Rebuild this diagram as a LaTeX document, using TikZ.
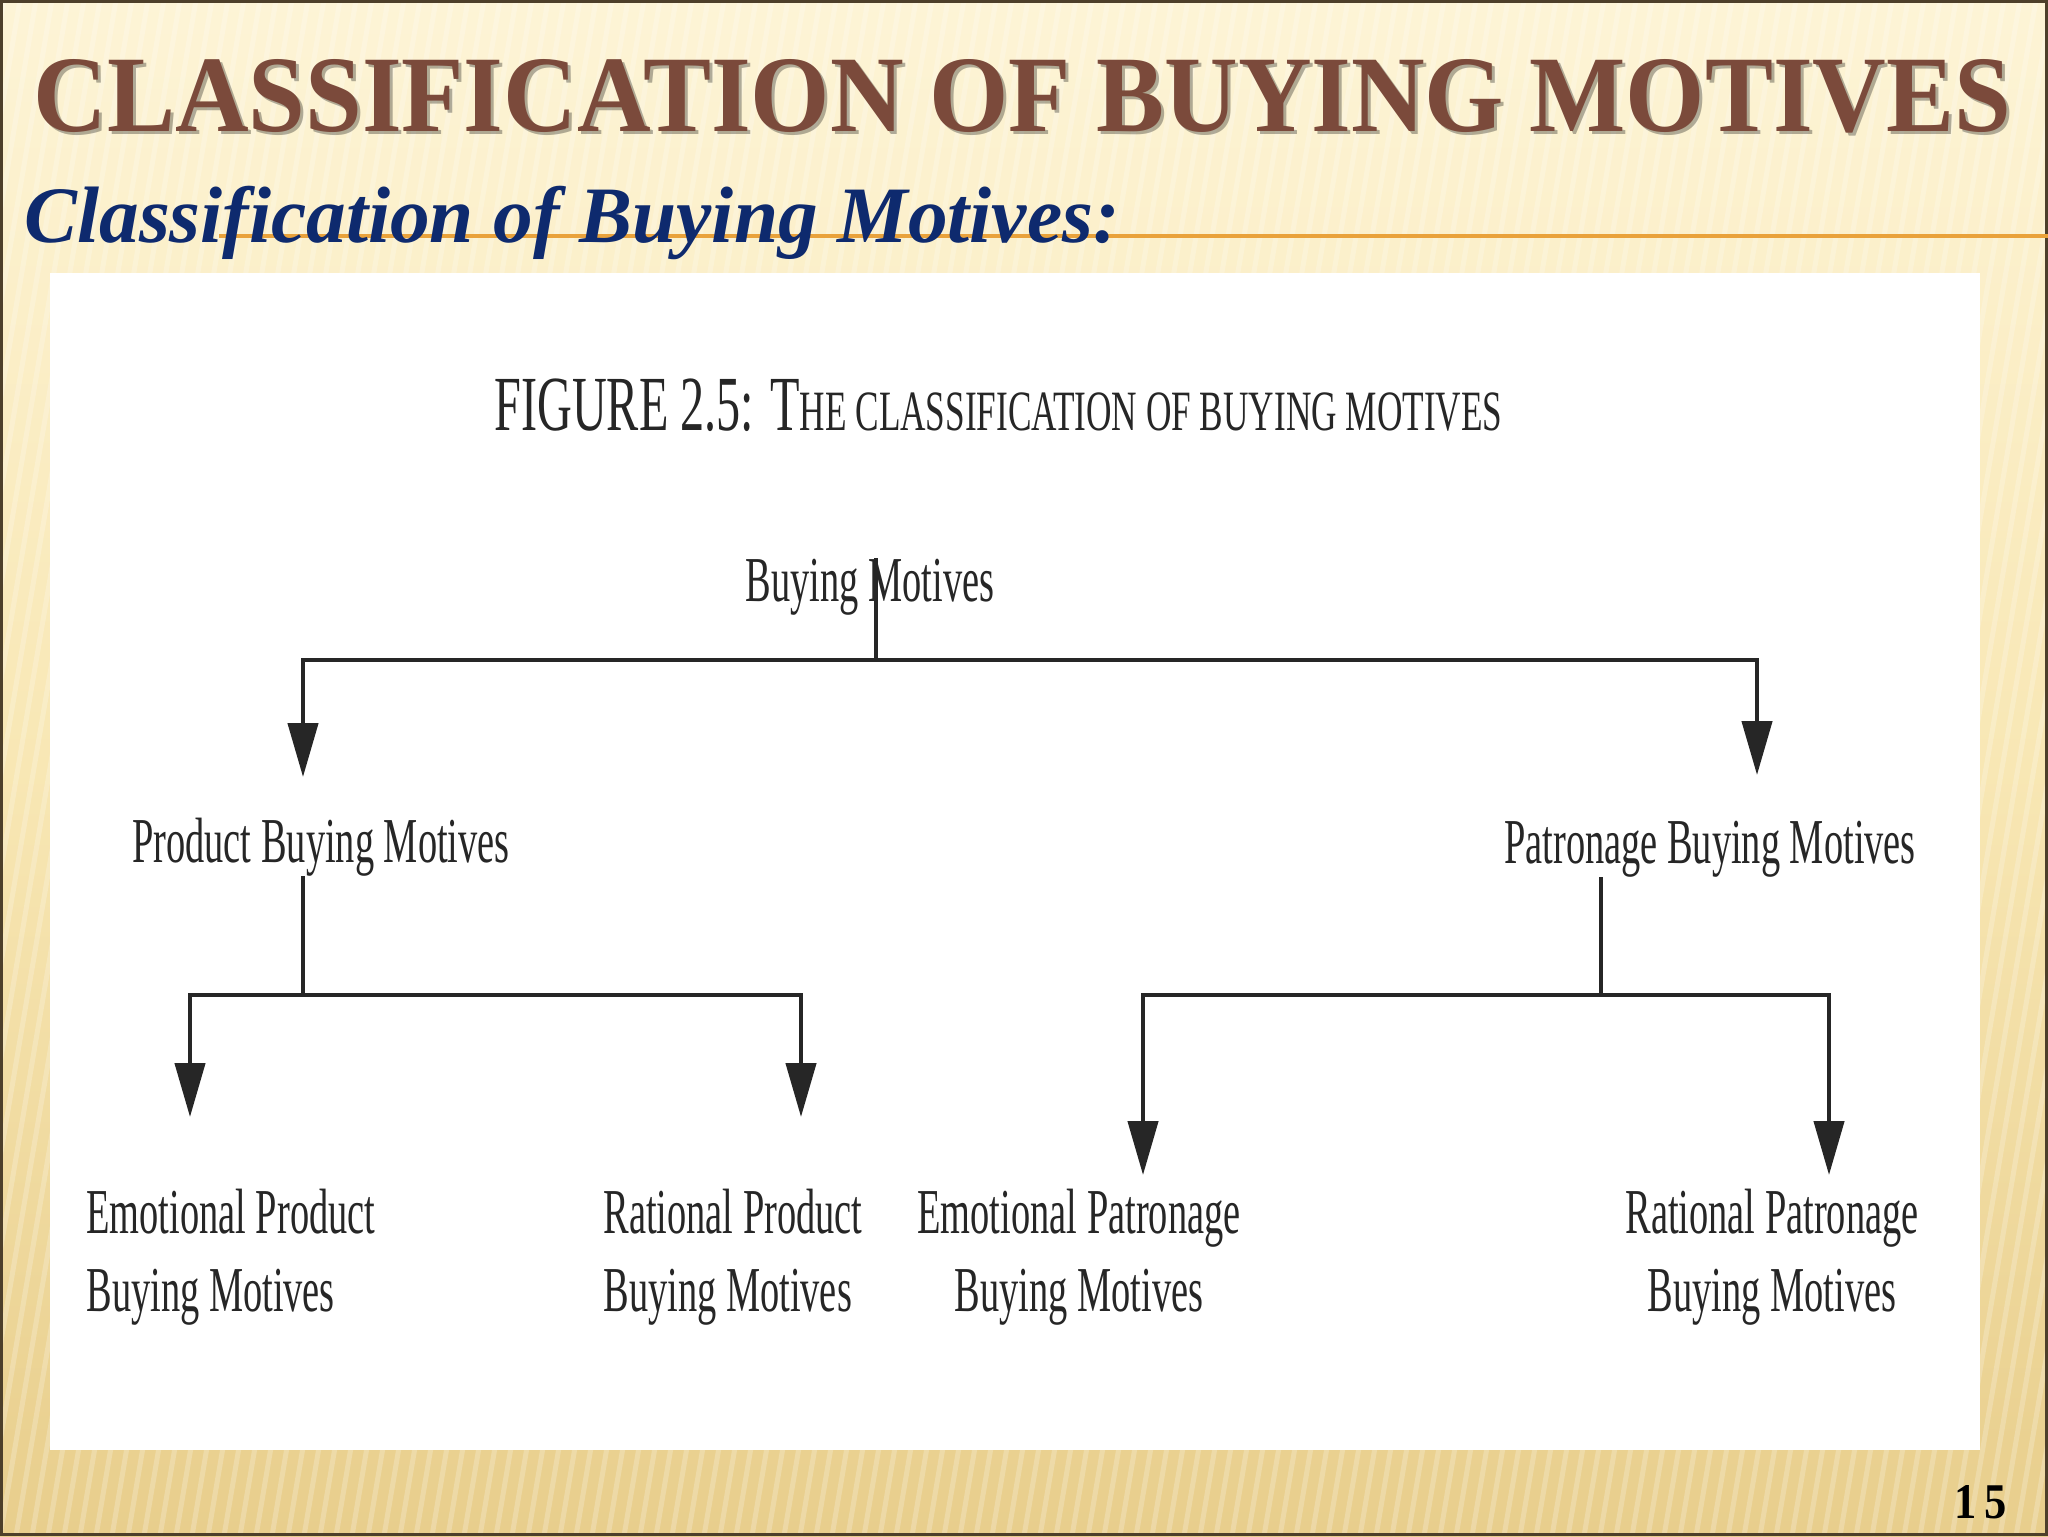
\documentclass[tikz,border=0pt]{standalone}
\usepackage{fontspec}
\usepackage{graphicx}
\setmainfont{Liberation Serif}
\newfontfamily\figfont[FakeStretch=0.6]{Liberation Serif}
\usetikzlibrary{arrows.meta}
\definecolor{titlebrown}{HTML}{7B4A3B}
\definecolor{subblue}{HTML}{0E2A6E}
\definecolor{rulegold}{HTML}{E9A23B}
\definecolor{bgtop}{HTML}{FDF4D6}
\definecolor{bgmid}{HTML}{F8E7B4}
\definecolor{bgbot}{HTML}{E8CE8C}
\definecolor{framec}{HTML}{4D3F2A}
\definecolor{inkc}{HTML}{262626}
\tikzset{
  lbl/.style={inner sep=0pt, text=inkc, font=\figfont\fontsize{32}{39}\selectfont},
  ln/.style={draw=inkc, line width=2.2pt},
  arr/.style={draw=inkc, line width=2.2pt, line join=miter, -{Triangle[length=27pt,width=15pt]}}
}
\begin{document}
\begin{tikzpicture}[x=0.5pt,y=-0.5pt]
\useasboundingbox (0,0) rectangle (2048,1536);
% background
\shade[top color=bgtop, bottom color=bgbot, middle color=bgmid] (0,0) rectangle (2048,1536);
\begin{scope}
\clip (0,0) rectangle (2048,1536);
\foreach \x in {-400,-384,...,2048} {
  \draw[white, opacity=0.22, line width=2.5pt] (\x,1536) -- (\x+260,0);
}
\end{scope}
\draw[framec, line width=1.5pt] (1.5,1.5) rectangle (2046.5,1534.5);
% title
\node[inner sep=0pt, anchor=base west, text=black, opacity=0.3] at (36,134)
  {\resizebox{989pt}{\height}{\bfseries\fontsize{54.4}{60}\selectfont CLASSIFICATION OF BUYING MOTIVES}};
\node[inner sep=0pt, anchor=base west, text=titlebrown] (title) at (33,131)
  {\resizebox{989pt}{\height}{\bfseries\fontsize{54.4}{60}\selectfont CLASSIFICATION OF BUYING MOTIVES}};
% rule and subtitle
\coordinate (ruleL) at (219,236);
\coordinate (ruleR) at (2048,236);
\draw[rulegold, line width=2pt] (ruleL) -- (ruleR);
\node[inner sep=0pt, anchor=base west, text=subblue] (sub) at (24,242)
  {\resizebox{547.5pt}{\height}{\bfseries\itshape\fontsize{40}{44}\selectfont Classification of Buying Motives:}};
% white figure panel
\fill[white] (50,273) rectangle (1980,1450);
% figure heading
\node[inner sep=0pt, anchor=base west, text=inkc] (fig) at (494,430)
  {\resizebox{504pt}{\height}{\fontsize{39}{42}\selectfont FIGURE 2.5: T\fontsize{28.5}{30}\selectfont HE CLASSIFICATION OF BUYING MOTIVES}};
% nodes
\node[lbl, anchor=base] (bm) at (870,601) {Buying Motives};
\node[lbl, anchor=base] (pbm) at (321,862) {Product Buying Motives};
\node[lbl, anchor=base] (patbm) at (1710,863) {Patronage Buying Motives};
\node[lbl, align=left, anchor=base west] (epbm) at (86,1311) {Emotional Product\\Buying Motives};
\node[lbl, align=left, anchor=base west] (rpbm) at (603,1311) {Rational Product\\Buying Motives};
\node[lbl, align=center, anchor=base] (epatbm) at (1079,1311) {Emotional Patronage\\Buying Motives};
\node[lbl, align=center, anchor=base] (rpatbm) at (1772,1311) {Rational Patronage\\Buying Motives};
% junctions and arrow ends
\coordinate (jTop) at (876,660);
\coordinate (tP) at (303,777);
\coordinate (tQ) at (1757,775);
\coordinate (jP) at (303,995);
\coordinate (tEP) at (190,1117);
\coordinate (tRP) at (801,1117);
\coordinate (jQ) at (1601,995);
\coordinate (tEQ) at (1143,1175);
\coordinate (tRQ) at (1829,1175);
% connectors
\draw[ln] (bm.north -| jTop) -- (jTop);
\draw[arr] (jTop) -| (tP);
\draw[arr] (jTop) -| (tQ);
\draw[ln] (pbm.south -| jP) -- (jP);
\draw[arr] (jP) -| (tEP);
\draw[arr] (jP) -| (tRP);
\draw[ln] (patbm.south -| jQ) -- (jQ);
\draw[arr] (jQ) -| (tEQ);
\draw[arr] (jQ) -| (tRQ);
% page number
\node[inner sep=0pt, anchor=base east, text=black] (pnum) at (2007,1518)
  {\resizebox{26pt}{16.5pt}{\bfseries\fontsize{25}{28}\selectfont 1\,5}};
\end{tikzpicture}
\end{document}
